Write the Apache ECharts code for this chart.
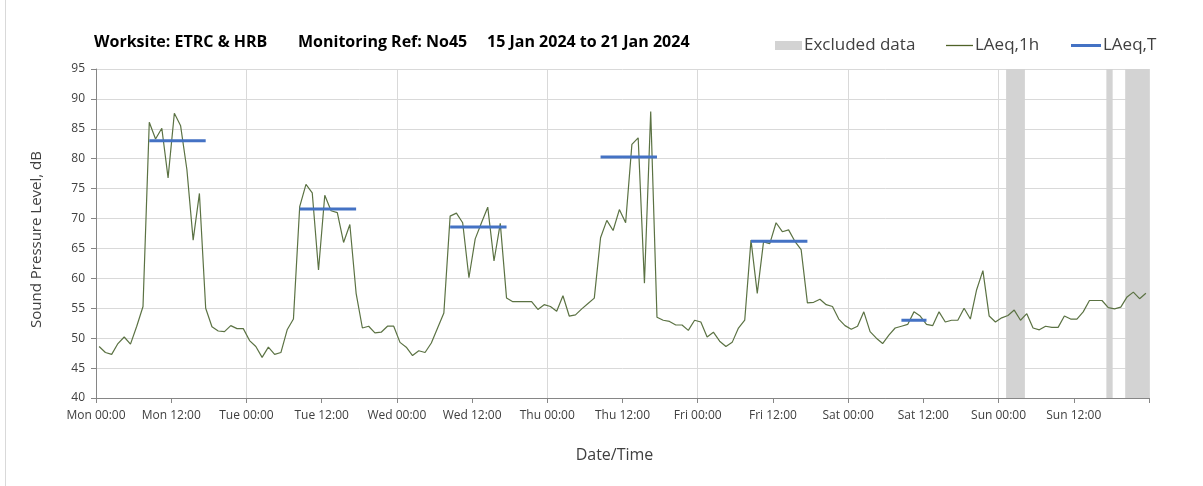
<!DOCTYPE html>
<html>
<head>
<meta charset="utf-8">
<script src="https://cdn.jsdelivr.net/npm/echarts@6/dist/echarts.min.js"></script>
<style>
html,body{margin:0;padding:0;background:#fff;}
#chart{width:1203px;height:486px;}
</style>
</head>
<body>
<div id="chart"></div>
<script>
// ---- data ----
const dayNames = ['Mon', 'Tue', 'Wed', 'Thu', 'Fri', 'Sat', 'Sun'];

// hourly LAeq,1h values (dB), hour 0 = Mon 00:00
const laeq1h = [
  // Mon
  48.6, 47.6, 47.3, 49.1, 50.2, 49.0, 52.0, 55.3, 86.1, 83.3, 85.1, 76.8,
  87.6, 85.5, 78.2, 66.4, 74.2, 55.0, 51.9, 51.2, 51.1, 52.1, 51.6, 51.6,
  // Tue
  49.6, 48.6, 46.8, 48.5, 47.3, 47.6, 51.4, 53.2, 72.0, 75.7, 74.3, 61.4,
  73.9, 71.3, 71.0, 66.0, 69.0, 57.5, 51.7, 52.0, 50.9, 51.0, 52.0, 52.0,
  // Wed
  49.3, 48.5, 47.1, 47.9, 47.6, 49.2, 51.7, 54.2, 70.4, 70.9, 69.3, 60.1,
  66.6, 69.3, 71.9, 62.9, 69.2, 56.7, 56.1, 56.1, 56.1, 56.1, 54.8, 55.6,
  // Thu
  55.3, 54.5, 57.1, 53.7, 53.9, 54.9, 55.8, 56.7, 66.8, 69.7, 68.0, 71.5,
  69.3, 82.4, 83.5, 59.2, 87.9, 53.5, 53.0, 52.8, 52.2, 52.2, 51.3, 53.0,
  // Fri
  52.7, 50.2, 51.0, 49.5, 48.6, 49.3, 51.7, 53.0, 66.4, 57.5, 66.1, 65.8,
  69.3, 67.8, 68.1, 66.2, 64.8, 55.9, 56.0, 56.5, 55.6, 55.3, 53.2, 52.1,
  // Sat
  51.5, 52.0, 54.4, 51.1, 50.0, 49.1, 50.5, 51.7, 52.0, 52.3, 54.4, 53.7,
  52.3, 52.1, 54.4, 52.7, 53.0, 53.0, 55.0, 53.2, 58.1, 61.3, 53.7, 52.7,
  // Sun
  53.4, 53.8, 54.7, 53.0, 54.1, 51.7, 51.4, 52.0, 51.8, 51.8, 53.7, 53.2,
  53.2, 54.4, 56.3, 56.3, 56.3, 55.1, 54.9, 55.2, 56.9, 57.7, 56.6, 57.5
];

// LAeq,T periods: first hour, last hour, level (dB)
const laeqTStart = [8, 32, 56, 80, 104, 128];
const laeqTEnd   = [17, 41, 65, 89, 113, 132];
const laeqTValue = [83.0, 71.6, 68.6, 80.3, 66.2, 53.0];

// excluded data periods (hours from Mon 00:00)
const excludedStart = [145.2, 161.2, 164.2];
const excludedEnd   = [148.2, 162.2, 168.0];

const titleParts = ['Worksite: ETRC & HRB', 'Monitoring Ref: No45', '15 Jan 2024 to 21 Jan 2024'];
const legendNames = ['Excluded data', 'LAeq,1h', 'LAeq,T'];
const yMin = 40, yMax = 95, yStep = 5;
const xMin = 0, xMax = 168, xLabelStep = 12, xGridStep = 24;

// ---- build ----
const HALF = 0.5; // hourly value plotted at the middle of its hour
const lineData = laeq1h.map((v, i) => [i + HALF, v]);
const tData = [];
laeqTStart.forEach((s, k) => {
  tData.push([s + HALF, laeqTValue[k]]);
  tData.push([laeqTEnd[k] + HALF, laeqTValue[k]]);
  tData.push([laeqTEnd[k] + HALF, '-']);
});
const areas = excludedStart.map((s, k) => [{ xAxis: s }, { xAxis: excludedEnd[k] }]);

const FONT = 'Open Sans';
const TXT = '#404040';
const titleStyle = { fontFamily: FONT, fontSize: 16, fontWeight: 'bold', color: '#000' };
const legendText = { fontFamily: FONT, fontSize: 17, color: TXT, padding: [0, 0, 0, -3] };

const chart = echarts.init(document.getElementById('chart'), null, { renderer: 'canvas' });
chart.setOption({
  animation: false,
  backgroundColor: '#ffffff',
  textStyle: { fontFamily: FONT },
  title: [
    { text: titleParts[0], left: 89, top: 29, textStyle: titleStyle },
    { text: titleParts[1], left: 293, top: 29, textStyle: titleStyle },
    { text: titleParts[2], left: 482, top: 29, textStyle: titleStyle }
  ],
  legend: [
    { data: [{ name: legendNames[0], icon: 'rect' }], left: 770, top: 32, itemWidth: 27, itemHeight: 9, textStyle: legendText },
    { data: [{ name: legendNames[1], icon: 'rect' }], left: 941, top: 32, itemWidth: 27, itemHeight: 1.3, textStyle: legendText },
    { data: [{ name: legendNames[2], icon: 'rect' }], left: 1066, top: 32, itemWidth: 30, itemHeight: 3, textStyle: legendText }
  ],
  grid: { left: 96, right: 54, top: 69, bottom: 88, containLabel: false },
  xAxis: [
    {
      type: 'value', min: xMin, max: xMax, interval: xLabelStep,
      name: 'Date/Time', nameLocation: 'middle', nameGap: 49,
      nameTextStyle: { fontFamily: FONT, fontSize: 16, color: TXT, padding: [0, 16, 0, 0] },
      axisLine: { show: true, lineStyle: { color: '#868686', width: 1 } },
      axisTick: { show: true, length: 5, lineStyle: { color: '#868686' } },
      axisLabel: {
        fontFamily: FONT, fontSize: 12, color: TXT, margin: 12,
        formatter: function (v) {
          if (v >= xMax) return '';
          const d = Math.floor(v / 24), h = v % 24;
          return dayNames[d] + ' ' + String(h).padStart(2, '0') + ':00';
        }
      },
      splitLine: { show: false }
    },
    {
      type: 'value', min: xMin, max: xMax, interval: xGridStep, position: 'bottom',
      axisLine: { show: false }, axisTick: { show: false }, axisLabel: { show: false },
      splitLine: { show: true, lineStyle: { color: '#d9d9d9', width: 1 } }
    }
  ],
  yAxis: {
    type: 'value', min: yMin, max: yMax, interval: yStep,
    name: 'Sound Pressure Level, dB', nameLocation: 'middle', nameGap: 52, nameRotate: 90,
    nameTextStyle: { fontFamily: FONT, fontSize: 15, color: TXT, padding: [0, 12, 0, 0] },
    axisLine: { show: true, lineStyle: { color: '#868686', width: 1 } },
    axisTick: { show: true, length: 5, lineStyle: { color: '#868686' } },
    axisLabel: { fontFamily: FONT, fontSize: 12, color: TXT, margin: 11 },
    splitLine: { show: true, lineStyle: { color: '#d9d9d9', width: 1 } }
  },
  series: [
    {
      name: legendNames[0], type: 'line', data: [], symbol: 'none', z: 1,
      itemStyle: { color: '#d3d3d3' }, lineStyle: { color: '#d3d3d3' },
      markArea: { silent: true, itemStyle: { color: '#d3d3d3' }, data: areas }
    },
    {
      name: legendNames[1], type: 'line', data: lineData, symbol: 'none', z: 3,
      itemStyle: { color: '#4f6228' },
      lineStyle: { color: '#5b7243', width: 1.2 }
    },
    {
      name: legendNames[2], type: 'line', data: tData, symbol: 'none', z: 4,
      connectNulls: false,
      itemStyle: { color: '#4472c4' },
      lineStyle: { color: '#4472c4', width: 3 }
    }
  ],
  graphic: [
    { type: 'line', shape: { x1: 5.5, y1: 0, x2: 5.5, y2: 486 }, style: { stroke: '#d9d9d9', lineWidth: 1 }, silent: true }
  ]
});
</script>
</body>
</html>
